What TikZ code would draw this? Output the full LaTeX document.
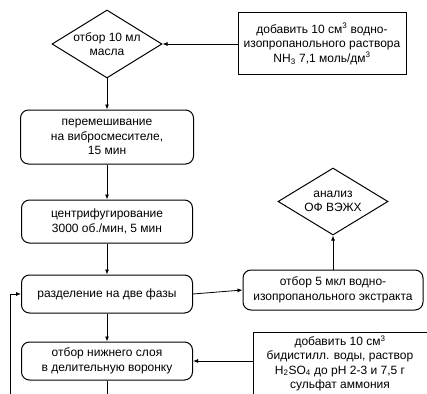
\documentclass[tikz,border=0pt]{standalone}
\usepackage{fontspec}
\setmainfont{Liberation Sans}
\usepackage{tikz}
\usetikzlibrary{arrows.meta,shapes.geometric}
\tikzset{
  txt/.style={font=\fontsize{12}{14.5}\selectfont, align=center, inner sep=0pt},
  rbox/.style={draw, line width=1pt, rounded corners=8pt, txt},
  sbox/.style={draw, line width=1pt, txt},
  decision/.style={draw, diamond, line width=1pt, inner sep=0pt},
  arr/.style={draw, line width=0.8pt, -{Latex[length=5pt,width=4pt]}},
  wire/.style={draw, line width=0.8pt}
}

\begin{document}
\begin{tikzpicture}[x=1pt,y=-1pt]
  \useasboundingbox (0,0) rectangle (427,393);
  \clip (0,0) rectangle (427,393);

  % left column
  \node[decision, minimum width=110pt, minimum height=68pt] (oil) at (107,44) {};
  \node[txt] at (oil) {отбор 10 мл\\масла};
  \node[rbox, minimum width=173pt, minimum height=54pt] (mix) at (107,137)
    {перемешивание\\на вибросмесителе,\\15 мин};
  \node[rbox, minimum width=171pt, minimum height=43pt] (cent) at (107,221.5)
    {центрифугирование\\3000 об./мин, 5 мин};
  \node[rbox, minimum width=171pt, minimum height=38pt] (phase) at (107,294)
    {разделение на две фазы};
  \node[rbox, minimum width=171pt, minimum height=38pt] (lower) at (107,361)
    {отбор нижнего слоя\\в делительную воронку};

  % right column
  \node[sbox, minimum width=168pt, minimum height=62pt] (ammonia) at (322,44)
    {добавить 10 см\textsuperscript{3} водно-\\изопропанольного раствора\\NH\textsubscript{3} 7,1 моль/дм\textsuperscript{3}};
  \node[decision, minimum width=110pt, minimum height=67pt] (hplc) at (333,201.5) {};
  \node[txt] at (hplc) {анализ\\ОФ ВЭЖХ};
  \node[rbox, minimum width=180pt, minimum height=40pt] (extract) at (333,290)
    {отбор 5 мкл водно-\\изопропанольного экстракта};
  \node[sbox, anchor=north, minimum width=174pt, inner ysep=3pt, text depth=10pt,
        font=\fontsize{12}{14.3}\selectfont] (acid) at (340,332)
    {добавить 10 см\textsuperscript{3}\\бидистилл. воды, раствор\\H\textsubscript{2}SO\textsubscript{4} до pH 2-3 и 7,5 г\\сульфат аммония};

  \coordinate (down) at (107,400);
  \coordinate (back) at (10,400);

  % connectors
  \draw[arr] (ammonia.west) -- (oil.east);
  \draw[arr] (oil.south) -- (mix.north);
  \draw[arr] (mix) -- (cent);
  \draw[arr] (cent) -- (phase);
  \draw[arr] (phase) -- (lower);
  \draw[arr] (phase.east) -- (extract.west);
  \draw[arr] (extract.north) -- (hplc.south);
  \draw[arr] (lower.east -| acid.west) -- (lower.east);
  \draw[wire] (lower.south) -- (down);
  \draw[arr] (back) |- (phase.west);
\end{tikzpicture}
\end{document}
